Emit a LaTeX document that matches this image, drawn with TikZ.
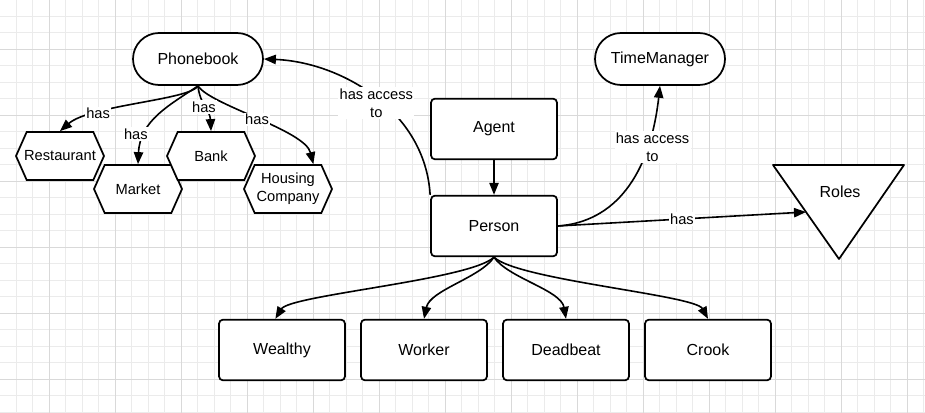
\documentclass[tikz,border=0pt]{standalone}
\usepackage{fontspec}
\setmainfont{Liberation Sans}
\usetikzlibrary{arrows.meta,shapes.symbols}

\tikzset{
  >={Triangle[length=9pt,width=7pt]},
  box/.style={draw, fill=white, line width=1.3pt, rounded corners=3pt,
    minimum width=94.5pt, minimum height=45.5pt, font=\fontsize{12}{14}\selectfont},
  pill/.style={draw, fill=white, line width=1.3pt, rounded corners=19.5pt,
    minimum width=97.5pt, minimum height=39pt, font=\fontsize{12}{14}\selectfont},
  hexbox/.style={draw, fill=white, line width=1.3pt, signal, signal to=east and west,
    signal pointer angle=132, minimum width=66pt, minimum height=36pt, inner xsep=-3pt,
    align=center, font=\fontsize{11}{13.5}\selectfont},
  lbl/.style={fill=white, inner sep=1pt, align=center, font=\fontsize{11}{13.5}\selectfont},
  link/.style={->, line width=1.2pt},
  gridminor/.style={draw=black!8, line width=0.6pt},
  gridmajor/.style={draw=black!15, line width=0.6pt}
}

\begin{document}
\begin{tikzpicture}[x=0.75pt,y=-0.75pt]
\useasboundingbox (0,0) rectangle (925,413);
%background grid
\foreach \gx in {0,...,55} \draw[gridminor] (16.3+16.5*\gx,0) -- (16.3+16.5*\gx,413);
\foreach \gy in {0,...,24} \draw[gridminor] (0,16.3+16.5*\gy) -- (925,16.3+16.5*\gy);
\foreach \gx in {0,...,13} \draw[gridmajor] (49+66*\gx,0) -- (49+66*\gx,413);
\foreach \gy in {0,...,5} \draw[gridmajor] (0,49+66*\gy) -- (925,49+66*\gy);

%top row
\node[pill] (phonebook) at (198,59) {Phonebook};
\node[pill] (timemanager) at (660,59) {TimeManager};
\node[box] (agent) at (494,129) {Agent};
\node[box] (person) at (494,226) {Person};

%places in the phonebook
\node[hexbox] (restaurant) at (60,156) {Restaurant};
\node[hexbox] (market) at (138,189) {Market};
\node[hexbox] (bank) at (211,156) {Bank};
\node[hexbox] (housing) at (288,189) {Housing\\Company};

%roles
\draw[line width=1.3pt, line join=round, fill=white] (773,165) -- (904,165) -- (839,259) -- cycle;
\node[font=\fontsize{12}{14}\selectfont] (roles) at (840,192) {Roles};
\coordinate (rolesedge) at (806,212);

%kinds of person
\node[box] (wealthy) at (282,350) {Wealthy};
\node[box] (worker) at (424,350) {Worker};
\node[box] (deadbeat) at (566,350) {Deadbeat};
\node[box] (crook) at (708,350) {Crook};

%phonebook has
\draw[link] (phonebook.south) .. controls (190,100) and (90,105) .. (restaurant.north) node[lbl, pos=0.72] {has};
\draw[link] (phonebook.south) .. controls (170,105) and (140,120) .. (market.north) node[lbl, pos=0.7, xshift=-8pt, yshift=-2pt] {has};
\draw[link] (phonebook.south) .. controls (210,105) and (305,130) .. ([xshift=19pt]housing.north) node[lbl, pos=0.5] {has};
\draw[link] (phonebook.south) .. controls (200,105) and (210,110) .. (bank.north) node[lbl, pos=0.45, yshift=-1pt] {has};

%person
\draw[link] (agent) -- (person);
\draw[link] (person.north west) .. controls (425,110) and (340,62) .. (phonebook.east) node[lbl, pos=0.5, yshift=-5pt, xshift=2pt] {has access\\to};
\draw[link] (person.east) .. controls (615,222) and (650,175) .. (timemanager.south) node[lbl, pos=0.74, xshift=4pt] {has access\\to};
\draw[link] (person.east) -- (rolesedge) node[lbl, pos=0.5] {has};

\draw[link] (person.south) .. controls (470,280) and (290,295) .. ([xshift=-5pt]wealthy.north);
\draw[link] (person.south) .. controls (480,278) and (430,290) .. (worker.north);
\draw[link] (person.south) .. controls (508,278) and (561,290) .. (deadbeat.north);
\draw[link] (person.south) .. controls (518,280) and (695,295) .. (crook.north);

\end{tikzpicture}
\end{document}
